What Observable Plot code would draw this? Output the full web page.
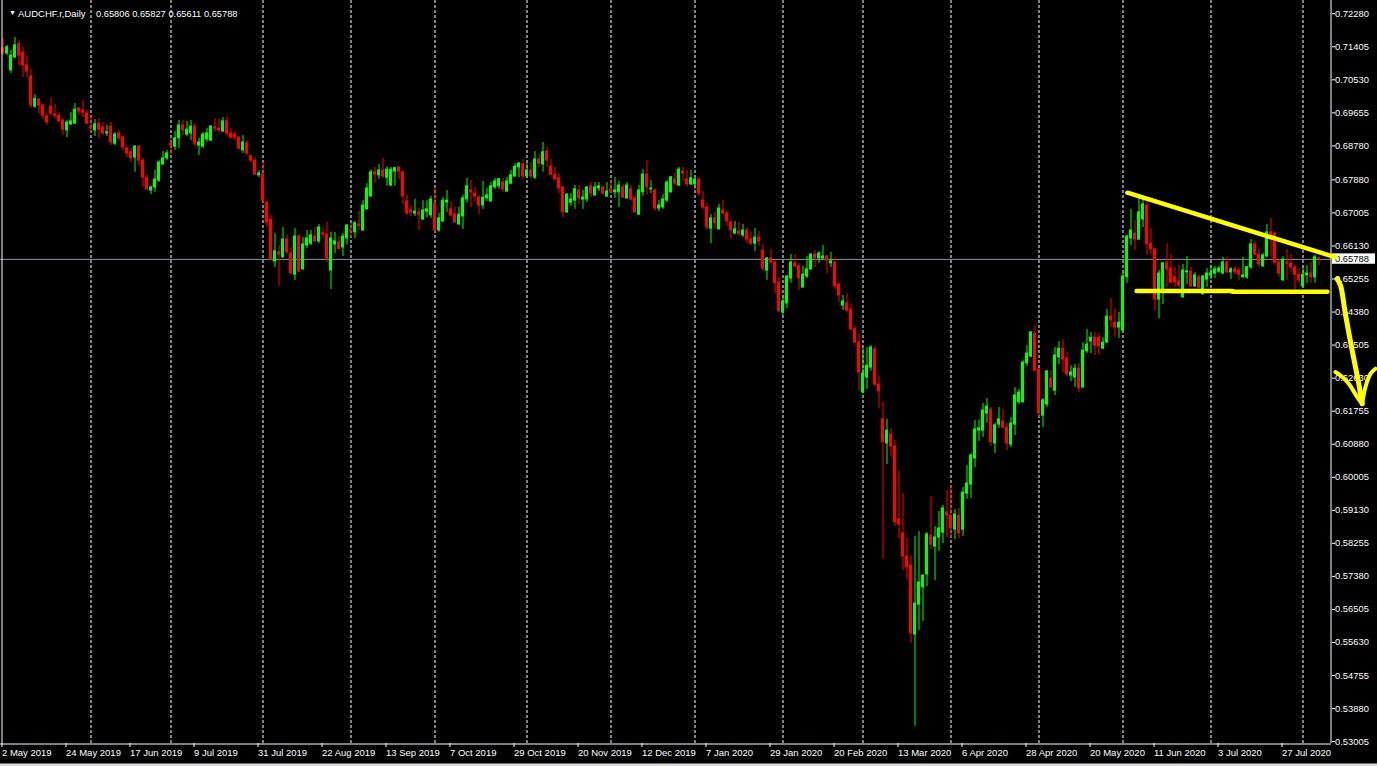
<!DOCTYPE html>
<html>
<head>
<meta charset="utf-8">
<script src="https://cdn.jsdelivr.net/npm/d3@7"></script>
<script src="https://cdn.jsdelivr.net/npm/@observablehq/plot@0.6"></script>
<style>
  html, body { margin: 0; padding: 0; background: #000; overflow: hidden; }
  #chart svg { display: block; }
</style>
</head>
<body>
<div id="chart"></div>
<script>
// ---------- DATA (AUDCHF.r, Daily, 2 May 2019 – 7 Aug 2020) ----------
const symbolTitle = "AUDCHF.r,Daily";
const firstDay = "2019-05-02";
const holidays = ["2019-12-25", "2020-01-01"];

const open = [
0.7136,0.7123,0.7078,0.7112,0.7147,0.7125,0.7091,0.7062,0.6982,0.7001,
0.6985,0.6956,0.6982,0.6961,0.6958,0.6945,0.6919,0.6935,0.6937,0.6977,
0.6972,0.6964,0.6927,0.6919,0.6937,0.6927,0.6911,0.6929,0.6884,0.6911,
0.6900,0.6871,0.6861,0.6847,0.6876,0.6839,0.6794,0.6760,0.6768,0.6786,
0.6829,0.6845,0.6884,0.6876,0.6898,0.6932,0.6908,0.6911,0.6929,0.6879,
0.6876,0.6895,0.6892,0.6927,0.6924,0.6916,0.6943,0.6911,0.6908,0.6900,
0.6866,0.6884,0.6850,0.6839,0.6800,0.6802,0.6728,0.6683,0.6572,0.6596,
0.6583,0.6630,0.6593,0.6537,0.6638,0.6551,0.6614,0.6619,0.6638,0.6625,
0.6646,0.6643,0.6548,0.6617,0.6622,0.6609,0.6633,0.6654,0.6649,0.6670,
0.6654,0.6710,0.6744,0.6808,0.6800,0.6813,0.6794,0.6773,0.6810,0.6821,
0.6808,0.6731,0.6707,0.6699,0.6702,0.6683,0.6704,0.6694,0.6725,0.6654,
0.6678,0.6728,0.6710,0.6696,0.6670,0.6691,0.6736,0.6760,0.6752,0.6741,
0.6720,0.6739,0.6731,0.6768,0.6771,0.6781,0.6757,0.6778,0.6797,0.6821,
0.6829,0.6797,0.6813,0.6794,0.6842,0.6829,0.6863,0.6823,0.6802,0.6792,
0.6768,0.6702,0.6728,0.6733,0.6760,0.6736,0.6736,0.6771,0.6747,0.6765,
0.6768,0.6744,0.6763,0.6755,0.6755,0.6768,0.6739,0.6763,0.6739,0.6696,
0.6755,0.6802,0.6763,0.6760,0.6712,0.6715,0.6733,0.6755,0.6789,0.6773,
0.6810,0.6789,0.6776,0.6776,0.6789,0.6733,0.6715,0.6659,0.6686,0.6657,
0.6707,0.6699,0.6675,0.6646,0.6651,0.6641,0.6654,0.6630,0.6619,0.6635,
0.6601,0.6548,0.6580,0.6569,0.6516,0.6437,0.6461,0.6527,0.6567,0.6559,
0.6503,0.6532,0.6551,0.6590,0.6580,0.6580,0.6585,0.6567,0.6569,0.6511,
0.6455,0.6461,0.6445,0.6392,0.6357,0.6225,0.6265,0.6291,0.6339,0.6246,
0.6154,0.6090,0.6114,0.6082,0.5889,0.5852,0.5791,0.5767,0.5584,0.5663,
0.5709,0.5743,0.5846,0.5817,0.5841,0.5854,0.5907,0.5899,0.5862,0.5899,
0.5862,0.5957,0.5981,0.6050,0.6124,0.6124,0.6169,0.6180,0.6090,0.6140,
0.6148,0.6132,0.6087,0.6140,0.6199,0.6199,0.6302,0.6320,0.6381,0.6286,
0.6164,0.6193,0.6262,0.6230,0.6318,0.6341,0.6315,0.6270,0.6265,0.6288,
0.6238,0.6334,0.6360,0.6370,0.6370,0.6341,0.6357,0.6426,0.6410,0.6397,
0.6389,0.6530,0.6633,0.6646,0.6630,0.6683,0.6720,0.6619,0.6604,0.6471,
0.6495,0.6567,0.6553,0.6530,0.6519,0.6477,0.6543,0.6545,0.6506,0.6530,
0.6485,0.6524,0.6535,0.6540,0.6545,0.6540,0.6569,0.6543,0.6551,0.6548,
0.6530,0.6530,0.6556,0.6617,0.6590,0.6559,0.6585,0.6649,0.6646,0.6569,
0.6522,0.6569,0.6567,0.6556,0.6537,0.6506,0.6535,0.6540,0.6530,0.65806
];
const high = [
0.7162,0.7144,0.7131,0.7165,0.7157,0.7139,0.7117,0.7080,0.7014,0.7003,
0.6987,0.6964,0.7006,0.6988,0.6966,0.6950,0.6945,0.6966,0.6990,0.6980,
0.6998,0.6972,0.6958,0.6948,0.6950,0.6940,0.6932,0.6940,0.6914,0.6919,
0.6905,0.6879,0.6871,0.6879,0.6879,0.6845,0.6802,0.6771,0.6813,0.6839,
0.6863,0.6866,0.6898,0.6916,0.6945,0.6945,0.6943,0.6945,0.6937,0.6898,
0.6914,0.6924,0.6932,0.6950,0.6948,0.6953,0.6956,0.6924,0.6916,0.6903,
0.6905,0.6892,0.6855,0.6847,0.6813,0.6834,0.6733,0.6694,0.6646,0.6614,
0.6662,0.6643,0.6609,0.6659,0.6643,0.6635,0.6654,0.6654,0.6662,0.6670,
0.6662,0.6675,0.6649,0.6649,0.6638,0.6646,0.6670,0.6673,0.6678,0.6704,
0.6733,0.6778,0.6815,0.6821,0.6829,0.6845,0.6823,0.6821,0.6821,0.6823,
0.6810,0.6749,0.6720,0.6736,0.6712,0.6733,0.6733,0.6744,0.6768,0.6699,
0.6741,0.6760,0.6731,0.6715,0.6715,0.6747,0.6792,0.6786,0.6768,0.6747,
0.6784,0.6765,0.6781,0.6792,0.6792,0.6792,0.6794,0.6813,0.6831,0.6834,
0.6842,0.6831,0.6834,0.6863,0.6855,0.6887,0.6874,0.6842,0.6821,0.6805,
0.6771,0.6752,0.6752,0.6773,0.6773,0.6760,0.6771,0.6781,0.6781,0.6781,
0.6771,0.6781,0.6789,0.6794,0.6784,0.6776,0.6781,0.6773,0.6747,0.6773,
0.6815,0.6839,0.6786,0.6763,0.6733,0.6749,0.6786,0.6797,0.6805,0.6821,
0.6821,0.6813,0.6813,0.6794,0.6794,0.6757,0.6726,0.6696,0.6702,0.6723,
0.6733,0.6707,0.6683,0.6678,0.6675,0.6670,0.6662,0.6649,0.6659,0.6651,
0.6617,0.6583,0.6604,0.6575,0.6530,0.6482,0.6535,0.6590,0.6590,0.6567,
0.6559,0.6585,0.6593,0.6601,0.6598,0.6614,0.6587,0.6596,0.6580,0.6514,
0.6482,0.6487,0.6461,0.6400,0.6381,0.6341,0.6344,0.6349,0.6347,0.6270,
0.6199,0.6154,0.6130,0.6098,0.6018,0.5957,0.5841,0.5793,0.5844,0.5857,
0.5743,0.5854,0.5950,0.5870,0.5910,0.5926,0.5965,0.5979,0.5915,0.5918,
0.5973,0.6032,0.6063,0.6151,0.6152,0.6196,0.6209,0.6185,0.6143,0.6185,
0.6180,0.6143,0.6159,0.6238,0.6233,0.6310,0.6349,0.6386,0.6403,0.6289,
0.6209,0.6283,0.6283,0.6344,0.6360,0.6365,0.6332,0.6296,0.6299,0.6302,
0.6357,0.6392,0.6384,0.6384,0.6381,0.6370,0.6445,0.6474,0.6447,0.6437,
0.6543,0.6641,0.6710,0.6680,0.6739,0.6739,0.6731,0.6659,0.6606,0.6548,
0.6569,0.6619,0.6590,0.6556,0.6561,0.6564,0.6585,0.6556,0.6543,0.6537,
0.6535,0.6553,0.6561,0.6559,0.6559,0.6583,0.6583,0.6556,0.6559,0.6556,
0.6583,0.6559,0.6630,0.6625,0.6604,0.6593,0.6670,0.6686,0.6648,0.6577,
0.6585,0.6604,0.6590,0.6561,0.6553,0.6561,0.6561,0.6569,0.6588,0.65827
];
const low = [
0.7117,0.7117,0.7070,0.7109,0.7091,0.7059,0.7059,0.6977,0.6977,0.6964,
0.6948,0.6932,0.6958,0.6950,0.6940,0.6905,0.6900,0.6932,0.6935,0.6958,
0.6953,0.6935,0.6911,0.6903,0.6898,0.6905,0.6903,0.6879,0.6879,0.6892,
0.6866,0.6847,0.6834,0.6808,0.6826,0.6768,0.6760,0.6749,0.6755,0.6781,
0.6826,0.6839,0.6855,0.6866,0.6871,0.6905,0.6903,0.6892,0.6876,0.6853,
0.6871,0.6887,0.6890,0.6914,0.6911,0.6914,0.6903,0.6895,0.6892,0.6866,
0.6858,0.6853,0.6834,0.6800,0.6794,0.6726,0.6662,0.6575,0.6556,0.6506,
0.6580,0.6590,0.6537,0.6522,0.6543,0.6549,0.6606,0.6614,0.6622,0.6619,
0.6635,0.6569,0.6498,0.6593,0.6604,0.6585,0.6617,0.6635,0.6633,0.6654,
0.6652,0.6708,0.6742,0.6778,0.6789,0.6792,0.6771,0.6771,0.6771,0.6789,
0.6723,0.6694,0.6691,0.6691,0.6654,0.6681,0.6688,0.6686,0.6649,0.6649,
0.6675,0.6702,0.6691,0.6673,0.6668,0.6657,0.6726,0.6715,0.6731,0.6696,
0.6710,0.6731,0.6729,0.6763,0.6763,0.6755,0.6755,0.6776,0.6794,0.6794,
0.6789,0.6792,0.6792,0.6789,0.6821,0.6808,0.6821,0.6800,0.6786,0.6752,
0.6688,0.6699,0.6718,0.6710,0.6723,0.6710,0.6728,0.6741,0.6744,0.6757,
0.6747,0.6742,0.6752,0.6739,0.6715,0.6739,0.6737,0.6733,0.6699,0.6694,
0.6744,0.6747,0.6752,0.6704,0.6704,0.6710,0.6728,0.6753,0.6773,0.6771,
0.6784,0.6768,0.6773,0.6763,0.6744,0.6710,0.6654,0.6619,0.6657,0.6655,
0.6696,0.6665,0.6630,0.6643,0.6638,0.6635,0.6619,0.6614,0.6598,0.6612,
0.6545,0.6522,0.6564,0.6487,0.6437,0.6429,0.6447,0.6514,0.6556,0.6495,
0.6501,0.6527,0.6548,0.6556,0.6567,0.6578,0.6540,0.6556,0.6498,0.6463,
0.6442,0.6437,0.6389,0.6355,0.6228,0.6222,0.6233,0.6281,0.6241,0.6183,
0.5783,0.6034,0.6055,0.5870,0.5838,0.5754,0.5730,0.5560,0.5341,0.5595,
0.5619,0.5711,0.5809,0.5727,0.5804,0.5825,0.5841,0.5838,0.5835,0.5838,
0.5844,0.5942,0.5944,0.6026,0.6095,0.6106,0.6143,0.6082,0.6063,0.6130,
0.6130,0.6071,0.6079,0.6111,0.6193,0.6197,0.6294,0.6317,0.6281,0.6159,
0.6132,0.6185,0.6236,0.6217,0.6299,0.6278,0.6267,0.6254,0.6238,0.6225,
0.6236,0.6328,0.6328,0.6323,0.6323,0.6339,0.6355,0.6397,0.6371,0.6368,
0.6387,0.6514,0.6614,0.6601,0.6628,0.6662,0.6588,0.6590,0.6440,0.6421,
0.6458,0.6503,0.6514,0.6503,0.6503,0.6474,0.6511,0.6503,0.6503,0.6500,
0.6483,0.6503,0.6524,0.6527,0.6540,0.6537,0.6540,0.6524,0.6537,0.6522,
0.6528,0.6524,0.6551,0.6588,0.6556,0.6556,0.6583,0.6583,0.6567,0.6530,
0.6519,0.6522,0.6545,0.6498,0.6514,0.6504,0.6514,0.6514,0.6514,0.65611
];
const close = [
0.7123,0.7139,0.7117,0.7144,0.7117,0.7091,0.7075,0.6985,0.7003,0.6985,
0.6958,0.6940,0.6964,0.6958,0.6943,0.6921,0.6940,0.6943,0.6974,0.6969,
0.6966,0.6937,0.6924,0.6935,0.6921,0.6911,0.6914,0.6887,0.6908,0.6898,
0.6874,0.6858,0.6845,0.6876,0.6839,0.6794,0.6763,0.6768,0.6789,0.6834,
0.6845,0.6858,0.6879,0.6898,0.6932,0.6919,0.6921,0.6929,0.6884,0.6887,
0.6908,0.6911,0.6929,0.6924,0.6919,0.6943,0.6911,0.6900,0.6900,0.6871,
0.6887,0.6858,0.6839,0.6802,0.6805,0.6733,0.6675,0.6577,0.6599,0.6590,
0.6630,0.6596,0.6540,0.6638,0.6545,0.6617,0.6633,0.6641,0.6625,0.6662,
0.6643,0.6580,0.6633,0.6625,0.6605,0.6638,0.6667,0.6651,0.6673,0.6665,
0.6720,0.6765,0.6808,0.6802,0.6813,0.6797,0.6815,0.6815,0.6819,0.6810,
0.6744,0.6699,0.6702,0.6704,0.6696,0.6707,0.6710,0.6736,0.6654,0.6686,
0.6733,0.6733,0.6694,0.6675,0.6696,0.6739,0.6771,0.6755,0.6744,0.6720,
0.6741,0.6747,0.6771,0.6784,0.6790,0.6763,0.6784,0.6800,0.6823,0.6831,
0.6797,0.6813,0.6797,0.6842,0.6831,0.6861,0.6839,0.6802,0.6789,0.6765,
0.6702,0.6749,0.6736,0.6763,0.6739,0.6741,0.6768,0.6752,0.6768,0.6771,
0.6752,0.6757,0.6755,0.6760,0.6773,0.6741,0.6773,0.6736,0.6702,0.6760,
0.6802,0.6768,0.6765,0.6712,0.6720,0.6736,0.6781,0.6795,0.6778,0.6815,
0.6805,0.6776,0.6792,0.6789,0.6752,0.6715,0.6662,0.6686,0.6673,0.6712,
0.6699,0.6678,0.6654,0.6657,0.6646,0.6654,0.6630,0.6619,0.6635,0.6625,
0.6553,0.6580,0.6569,0.6514,0.6440,0.6466,0.6532,0.6569,0.6558,0.6527,
0.6537,0.6551,0.6590,0.6580,0.6593,0.6585,0.6575,0.6572,0.6506,0.6482,
0.6466,0.6442,0.6392,0.6357,0.6278,0.6275,0.6296,0.6344,0.6246,0.6228,
0.6093,0.6124,0.6082,0.5881,0.5875,0.5791,0.5762,0.5587,0.5666,0.5722,
0.5740,0.5849,0.5822,0.5841,0.5865,0.5918,0.5899,0.5865,0.5902,0.5852,
0.5960,0.5984,0.6058,0.6127,0.6130,0.6177,0.6188,0.6093,0.6138,0.6154,
0.6132,0.6090,0.6143,0.6217,0.6225,0.6304,0.6328,0.6384,0.6283,0.6169,
0.6204,0.6281,0.6238,0.6323,0.6341,0.6312,0.6273,0.6278,0.6288,0.6236,
0.6336,0.6352,0.6370,0.6349,0.6347,0.6357,0.6426,0.6416,0.6397,0.6410,
0.6532,0.6638,0.6654,0.6630,0.6702,0.6723,0.6617,0.6604,0.6471,0.6540,
0.6567,0.6551,0.6516,0.6516,0.6508,0.6548,0.6546,0.6506,0.6535,0.6503,
0.6532,0.6540,0.6540,0.6551,0.6553,0.6569,0.6543,0.6551,0.6543,0.6537,
0.6535,0.6557,0.6617,0.6590,0.6564,0.6588,0.6649,0.6643,0.6569,0.6540,
0.6577,0.6567,0.6556,0.6537,0.6522,0.6537,0.6540,0.6530,0.6583,0.65788
];

// axis labels
const dateLabels = ["2 May 2019","24 May 2019","17 Jun 2019","9 Jul 2019","31 Jul 2019",
  "22 Aug 2019","13 Sep 2019","7 Oct 2019","29 Oct 2019","20 Nov 2019","12 Dec 2019",
  "7 Jan 2020","29 Jan 2020","20 Feb 2020","13 Mar 2020","6 Apr 2020","28 Apr 2020",
  "20 May 2020","11 Jun 2020","3 Jul 2020","27 Jul 2020"];
const labelEvery = 16; // bars between date labels
const priceTicks = [0.72280,0.71405,0.70530,0.69655,0.68780,0.67880,0.67005,0.66130,
  0.65255,0.64380,0.63505,0.62630,0.61755,0.60880,0.60005,0.59130,0.58255,0.57380,
  0.56505,0.55630,0.54755,0.53880,0.53005];

// hand-drawn yellow annotation (bar index, price)
const trendLine    = [[281.1,0.6754],[333.2,0.6583]];
const supportLine1 = [[283.4,0.6494],[307.4,0.6494]];
const supportLine2 = [[307.4,0.6492],[331.1,0.6492]];
const arrowShaft   = [[333.55,0.6526],[334.4,0.6508],[335.6,0.6433],[337.3,0.6336],[338.95,0.6248],[339.8,0.6195]];
const arrowLeft    = [[333.1,0.6279],[334.4,0.6270],[336.45,0.6248],[338.55,0.6213],[339.8,0.6195]];
const arrowRight   = [[343.1,0.6288],[341.9,0.6275],[340.6,0.6239],[339.8,0.6195]];

// ---------- BUILD ----------
// trading days (weekdays without broker holidays)
const days = [];
{
  const d = new Date(firstDay + "T00:00:00Z");
  while (days.length < close.length) {
    const wd = d.getUTCDay();
    const iso = d.toISOString().slice(0, 10);
    if (wd !== 0 && wd !== 6 && !holidays.includes(iso)) days.push(new Date(d));
    d.setUTCDate(d.getUTCDate() + 1);
  }
}
const monthStarts = [];
for (let i = 1; i < days.length; i++) if (days[i].getUTCMonth() !== days[i - 1].getUTCMonth()) monthStarts.push(i);

const bars = close.map((c, i) => ({i, open: open[i], high: high[i], low: low[i], close: c}));
const up = bars.filter(d => d.close >= d.open);
const down = bars.filter(d => d.close < d.open);
const labelBars = dateLabels.map((_, k) => k * labelEvery);
const lastClose = close[close.length - 1];

const W = 1377, H = 766, mR = 46, mB = 23;
const xDomain = [-0.625, 332.125];
const yDomain = [0.52955, 0.7263];
const GREEN = "#00ff00", RED = "#ff0000", YELLOW = "#ffff00";
const font = "'Liberation Sans', Arial, sans-serif";
const yl = (arr) => arr.map(([i, p]) => ({i, p}));

// current price tag as a custom render mark (uses the y scale)
function priceTag(value) {
  return (index, scales, values, dims) => {
    const yPix = scales.y(value);
    const x0 = dims.width - dims.marginRight + 1;
    const g = d3.create("svg:g");
    g.append("rect").attr("x", x0).attr("y", yPix - 5.0).attr("width", 43).attr("height", 10.4).attr("fill", "#fff");
    g.append("text").attr("x", x0 + 3).attr("y", yPix + 0.3).attr("dy", "0.35em")
      .attr("text-anchor", "start")
      .attr("fill", "#000").attr("font-size", 9.4).attr("font-family", font).text(value.toFixed(5));
    return g.node();
  };
}

const chart = Plot.plot({
  width: W, height: H,
  marginLeft: 0, marginRight: mR, marginTop: 0, marginBottom: mB,
  x: {domain: xDomain, axis: null, label: null},
  y: {domain: yDomain, axis: null, label: null},
  style: {background: "#000", color: "#fff", fontFamily: font, fontSize: "9.5px"},
  marks: [
    // monthly dashed grid
    Plot.ruleX(monthStarts, {x: d => d, stroke: "#ffffff", strokeDasharray: "3,2", strokeWidth: 1}),
    // current price line
    Plot.ruleY([lastClose], {stroke: "#8797a8", strokeWidth: 1, dy: 0.5}),
    // candles
    Plot.ruleX(up, {x: "i", y1: "low", y2: "high", stroke: GREEN, strokeWidth: 1}),
    Plot.ruleX(down, {x: "i", y1: "low", y2: "high", stroke: RED, strokeWidth: 1}),
    Plot.rect(up, {x1: d => d.i - 0.375, x2: d => d.i + 0.375, y1: "open", y2: "close", fill: GREEN, insetTop: -0.5, insetBottom: -0.5}),
    Plot.rect(down, {x1: d => d.i - 0.375, x2: d => d.i + 0.375, y1: "open", y2: "close", fill: RED, insetTop: -0.5, insetBottom: -0.5}),
    // frame lines (left, right, bottom)
    Plot.ruleX([xDomain[0]], {stroke: "#fff", dx: 1.5}),
    Plot.ruleX([xDomain[1]], {stroke: "#fff", dx: -0.5}),
    Plot.ruleY([yDomain[0]], {stroke: "#fff", dy: 0.5}),
    // axes
    Plot.axisY(priceTicks, {anchor: "right", tickSize: 3, tickPadding: 0.5, color: "#fff", label: null,
      tickFormat: d => d.toFixed(5), fontSize: 9.4}),
    Plot.axisX(labelBars, {anchor: "bottom", tickSize: 4, tickPadding: 1.5, color: "#fff", label: null,
      tickFormat: d => dateLabels[d / labelEvery], textAnchor: "start", dx: -1, fontSize: 9.5}),
    // title
    Plot.text(["▼"], {frameAnchor: "top-left", dx: 8.5, dy: 9.5, fill: "#fff", fontSize: 7}),
    Plot.text([symbolTitle], {frameAnchor: "top-left", dx: 17.5, dy: 9.5, fill: "#fff", textAnchor: "start", fontSize: 9.5}),
    Plot.text([[open, high, low, close].map(a => a[a.length - 1].toFixed(5)).join(" ")],
      {frameAnchor: "top-left", dx: 95.5, dy: 9.5, fill: "#fff", textAnchor: "start", fontSize: 9.3}),
    // price tag below the drawn annotation
    priceTag(lastClose),
    // yellow annotation
    Plot.line(yl(trendLine), {x: "i", y: "p", stroke: YELLOW, strokeWidth: 4.5, strokeLinecap: "round"}),
    Plot.line(yl(supportLine1), {x: "i", y: "p", stroke: YELLOW, strokeWidth: 4.5, strokeLinecap: "round"}),
    Plot.line(yl(supportLine2), {x: "i", y: "p", stroke: YELLOW, strokeWidth: 4.5, strokeLinecap: "round"}),
    Plot.line(yl(arrowShaft), {x: "i", y: "p", stroke: YELLOW, strokeWidth: 5, strokeLinecap: "round", strokeLinejoin: "round", curve: "catmull-rom"}),
    Plot.line(yl(arrowLeft), {x: "i", y: "p", stroke: YELLOW, strokeWidth: 4, strokeLinecap: "round", strokeLinejoin: "round", curve: "catmull-rom"}),
    Plot.line(yl(arrowRight), {x: "i", y: "p", stroke: YELLOW, strokeWidth: 4, strokeLinecap: "round", strokeLinejoin: "round", curve: "catmull-rom"})
  ]
});

// thin light window edge along the bottom
d3.select(chart).append("rect").attr("x", 0).attr("y", H - 2.5).attr("width", W).attr("height", 2.5).attr("fill", "#dcdcdc");

document.getElementById("chart").appendChild(chart);
</script>
</body>
</html>
